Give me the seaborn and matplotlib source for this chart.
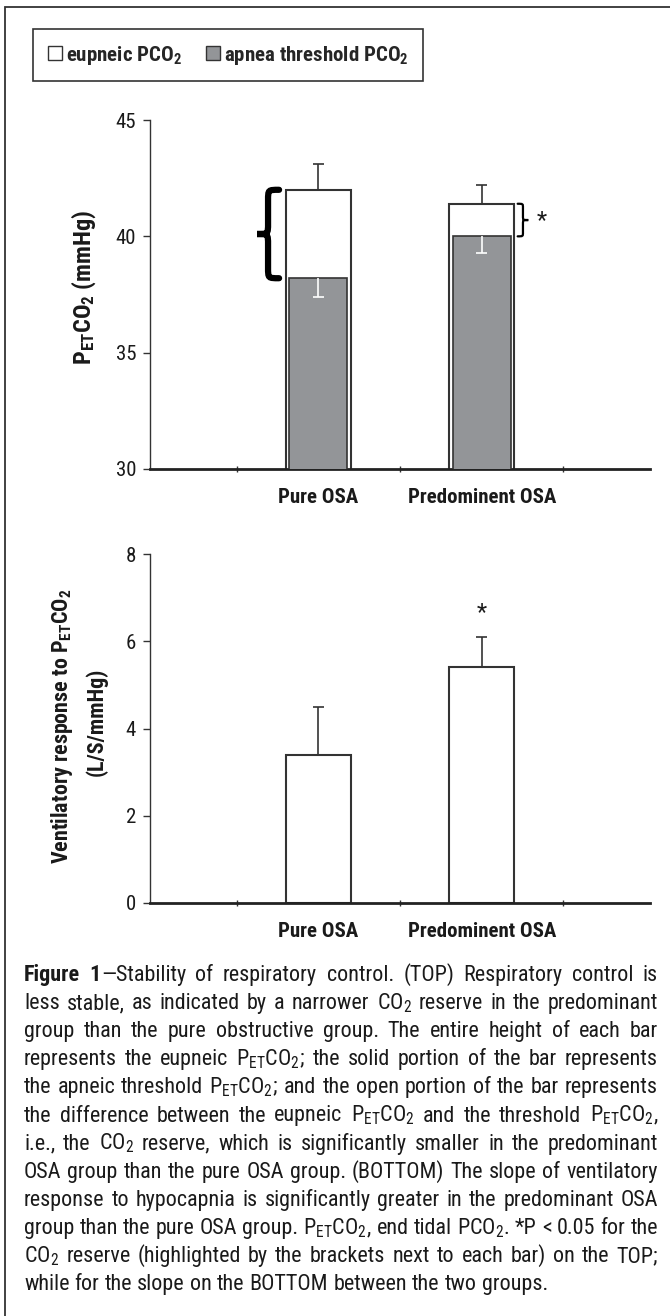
import numpy as np
import pandas as pd
import matplotlib as mpl
import matplotlib.pyplot as plt
import seaborn as sns
from matplotlib import font_manager
from matplotlib.path import Path
from matplotlib.patches import PathPatch, Patch, Rectangle

# datos
groups = ["Pure OSA", "Predominent OSA"]
eupneic = [42.0, 41.4]
eupneic_sd = [1.1, 0.8]
threshold = [38.2, 40.0]
threshold_sd = [0.8, 0.7]
slope = [3.4, 5.4]
slope_sd = [1.1, 0.7]
top_ticks = [30, 35, 40, 45]
bottom_ticks = [0, 2, 4, 6, 8]

caption_lines = [
    "**Figure** **1**—Stability of respiratory control. (TOP) Respiratory control is",
    "less stable, as indicated by a narrower CO$_2$ reserve in the predominant",
    "group than the pure obstructive group. The entire height of each bar",
    "represents the eupneic P$_{\\mathrm{ET}}$CO$_2$; the solid portion of the bar represents",
    "the apneic threshold P$_{\\mathrm{ET}}$CO$_2$; and the open portion of the bar represents",
    "the difference between the eupneic P$_{\\mathrm{ET}}$CO$_2$ and the threshold P$_{\\mathrm{ET}}$CO$_2$,",
    "i.e., the CO$_2$ reserve, which is significantly smaller in the predominant",
    "OSA group than the pure OSA group. (BOTTOM) The slope of ventilatory",
    "response to hypocapnia is significantly greater in the predominant OSA",
    "group than the pure OSA group. P$_{\\mathrm{ET}}$CO$_2$, end tidal PCO$_2$. *P < 0.05 for the",
    "CO$_2$ reserve (highlighted by the brackets next to each bar) on the TOP;",
    "while for the slope on the BOTTOM between the two groups.",
]


# fuente estrecha tipo Arial Narrow (la primera que tenga regular y negrita)
def weight_num(w):
    if isinstance(w, (int, float)):
        return w
    return {"bold": 700, "normal": 400, "regular": 400, "medium": 500}.get(str(w).lower(), 400)


def has_bold(fam):
    ws = [weight_num(f.weight) for f in font_manager.fontManager.ttflist if f.name == fam]
    return any(w >= 600 for w in ws) and any(w <= 500 for w in ws)


candidates = ["Liberation Sans Narrow", "Arial Narrow", "Roboto Condensed", "PT Sans Narrow",
              "Archivo Narrow", "Barlow Semi Condensed", "Asap Condensed",
              "Encode Sans Semi Condensed"]
narrow = next((c for c in candidates if has_bold(c)), "Liberation Sans")

sns.set_theme(style="white")
plt.rcParams["font.family"] = [narrow, "DejaVu Sans"]
plt.rcParams["mathtext.fontset"] = "custom"
plt.rcParams["mathtext.rm"] = narrow
plt.rcParams["mathtext.it"] = narrow + ":italic"
plt.rcParams["mathtext.bf"] = narrow + ":bold"

W, H = 670, 1316
dark = "#333333"
ink = "#1a1a1a"
gray = "#939598"


def fx(x):
    return x / W


def fy(y):
    return 1 - y / H


def brace(ax, x, y0, y1, w, lw, side):
    # llave vertical; side=-1 apunta a la izquierda, +1 a la derecha
    xe = x
    xs = x + side * w / 2
    xt = x + side * w
    ym = (y0 + y1) / 2
    r = (y1 - y0) * 0.12
    verts = [(xe, y1), (xs, y1), (xs, y1), (xs, y1 - r),
             (xs, ym + r),
             (xs, ym), (xs, ym), (xt, ym),
             (xs, ym), (xs, ym), (xs, ym - r),
             (xs, y0 + r),
             (xs, y0), (xs, y0), (xe, y0)]
    codes = [Path.MOVETO, Path.CURVE4, Path.CURVE4, Path.CURVE4,
             Path.LINETO,
             Path.CURVE4, Path.CURVE4, Path.CURVE4,
             Path.CURVE4, Path.CURVE4, Path.CURVE4,
             Path.LINETO,
             Path.CURVE4, Path.CURVE4, Path.CURVE4]
    ax.add_patch(PathPatch(Path(verts, codes), fill=False, lw=lw,
                           edgecolor="black", capstyle="round", clip_on=False))


def style_axis(ax, ticks):
    sns.despine(ax=ax)
    ax.set_xlim(-1.03, 2.03)
    ax.set_ylim(ticks[0], ticks[-1])
    ax.set_yticks(ticks)
    ax.set_xticks(range(len(groups)))
    ax.set_xticklabels(groups, fontsize=15, fontweight="bold", color=ink)
    ax.set_xticks([-0.5, 0.5, 1.5], minor=True)
    ax.tick_params(axis="x", which="major", length=0, pad=14)
    ax.tick_params(axis="x", which="minor", length=5, width=1, direction="inout",
                   color=dark, bottom=True)
    ax.tick_params(axis="y", length=5, width=1, color=dark, labelsize=15,
                   labelcolor=ink, left=True, pad=5)
    ax.spines["left"].set_linewidth(1)
    ax.spines["left"].set_color(dark)
    ax.spines["bottom"].set_linewidth(2)
    ax.spines["bottom"].set_color("#222222")
    ax.set_xlabel("")
    ax.set_ylabel("")


def caps(ax, x, y, color, half=0.034):
    ax.hlines(y, np.array(x) - half, np.array(x) + half, color=color, lw=1.2, zorder=5)


fig = plt.figure(figsize=(W / 100, H / 100), dpi=100)
x0, x1 = 150, 650
ax1 = fig.add_axes([fx(x0), fy(469), (x1 - x0) / W, (469 - 120) / H])
ax2 = fig.add_axes([fx(x0), fy(903), (x1 - x0) / W, (903 - 554) / H])

df_top = pd.DataFrame({"group": groups, "eupneic": eupneic, "threshold": threshold})
df_bot = pd.DataFrame({"group": groups, "slope": slope})
xpos = np.arange(len(groups))

# panel superior
sns.barplot(data=df_top, x="group", y="eupneic", order=groups, width=0.40,
            color="white", edgecolor=dark, linewidth=1.5, errorbar=None,
            saturation=1, ax=ax1, zorder=2)
sns.barplot(data=df_top, x="group", y="threshold", order=groups, width=0.355,
            color=gray, edgecolor=dark, linewidth=1.2, errorbar=None,
            saturation=1, ax=ax1, zorder=3)
top_err = np.array(eupneic) + np.array(eupneic_sd)
ax1.vlines(xpos, eupneic, top_err, color=dark, lw=1.2, zorder=4)
caps(ax1, xpos, top_err, dark)
low_err = np.array(threshold) - np.array(threshold_sd)
ax1.vlines(xpos, low_err, threshold, color="white", lw=1.2, zorder=4)
caps(ax1, xpos, low_err, "white")
style_axis(ax1, top_ticks)

brace(ax1, xpos[0] - 0.24, threshold[0], eupneic[0], 0.135, 4.5, -1)
brace(ax1, xpos[1] + 0.22, threshold[1], eupneic[1], 0.065, 1.6, 1)
ax1.text(xpos[1] + 0.365, (threshold[1] + eupneic[1]) / 2, "*", fontsize=17,
         ha="center", va="center", color=ink)

fig.text(fx(84), fy(287), r"P$_{\mathbf{ET}}$CO$_{\mathbf{2}}$ (mmHg)", rotation=90,
         ha="center", va="center", fontsize=17.5, fontweight="bold", color=ink)

# panel inferior
sns.barplot(data=df_bot, x="group", y="slope", order=groups, width=0.40,
            color="white", edgecolor=dark, linewidth=1.5, errorbar=None,
            saturation=1, ax=ax2, zorder=2)
slope_err = np.array(slope) + np.array(slope_sd)
ax2.vlines(xpos, slope, slope_err, color=dark, lw=1.2, zorder=4)
caps(ax2, xpos, slope_err, dark)
style_axis(ax2, bottom_ticks)
ax2.text(xpos[1], slope_err[1] + 0.55, "*", fontsize=17, ha="center", va="center",
         color=ink)

fig.text(fx(62), fy(726), r"Ventilatory response to P$_{\mathbf{ET}}$CO$_{\mathbf{2}}$",
         rotation=90, ha="center", va="center", fontsize=15.8, fontweight="bold",
         color=ink)
fig.text(fx(96), fy(722), "(L/S/mmHg)", rotation=90, ha="center", va="center",
         fontsize=15.8, fontweight="bold", color=ink)

# leyenda
handles = [Patch(facecolor="white", edgecolor=dark, lw=1),
           Patch(facecolor=gray, edgecolor=dark, lw=1)]
labels = [r"eupneic PCO$_{\mathbf{2}}$", r"apnea threshold PCO$_{\mathbf{2}}$"]
leg = fig.legend(handles, labels, loc="upper left", bbox_to_anchor=(fx(33), fy(29)),
                 ncol=2, frameon=True, fancybox=False, edgecolor=dark, framealpha=1,
                 borderpad=0.7, handlelength=0.68, handleheight=0.68,
                 handletextpad=0.2, columnspacing=1.15, borderaxespad=0,
                 prop={"weight": "bold", "size": 15})
leg.get_frame().set_linewidth(1.2)

# marco exterior
fig.add_artist(Rectangle((fx(5), -0.05), 1.2, fy(7) + 0.05, transform=fig.transFigure,
                         fill=False, edgecolor=dark, lw=1.3))

# pie de figura justificado
renderer = fig.canvas.get_renderer()
left, right = 24, 658
base0, dy = 981, 28.1


def segments(word):
    parts = word.split("**")
    return [(p, i % 2 == 1) for i, p in enumerate(parts) if p]


def text_width(s, size, bold=False):
    t = fig.text(0, 0, s, fontsize=size, fontweight="bold" if bold else "normal")
    w = t.get_window_extent(renderer).width
    t.remove()
    return w


# tamaño de letra: que la línea natural más larga llene el ancho
size0 = 17.5
space0 = text_width("a a", size0) - text_width("aa", size0)
natural = []
for line in caption_lines[:-1]:
    words = [segments(w) for w in line.split(" ")]
    ws = sum(text_width(s, size0, b) for w in words for s, b in w)
    natural.append(ws + space0 * (len(words) - 1))
cap_size = min(18.5, size0 * (right - left) / max(natural))
space = space0 * cap_size / size0

for i, line in enumerate(caption_lines):
    words = [segments(w) for w in line.split(" ")]
    arts, widths = [], []
    for w in words:
        segs, total = [], 0
        for s, b in w:
            t = fig.text(0, 0, s, fontsize=cap_size, fontweight="bold" if b else "normal",
                         ha="left", va="baseline", color=ink)
            ext = t.get_window_extent(renderer)
            segs.append((t, ext.width))
            total += ext.width
        arts.append(segs)
        widths.append(total)
    if i == len(caption_lines) - 1:
        gap = space
    else:
        gap = (right - left - sum(widths)) / (len(words) - 1)
    xcur = left
    ycur = base0 + i * dy
    for segs, w in zip(arts, widths):
        xx = xcur
        for t, sw in segs:
            t.set_position((fx(xx), fy(ycur)))
            xx += sw
        xcur += w + gap

fig.savefig("out.png", dpi=100)
